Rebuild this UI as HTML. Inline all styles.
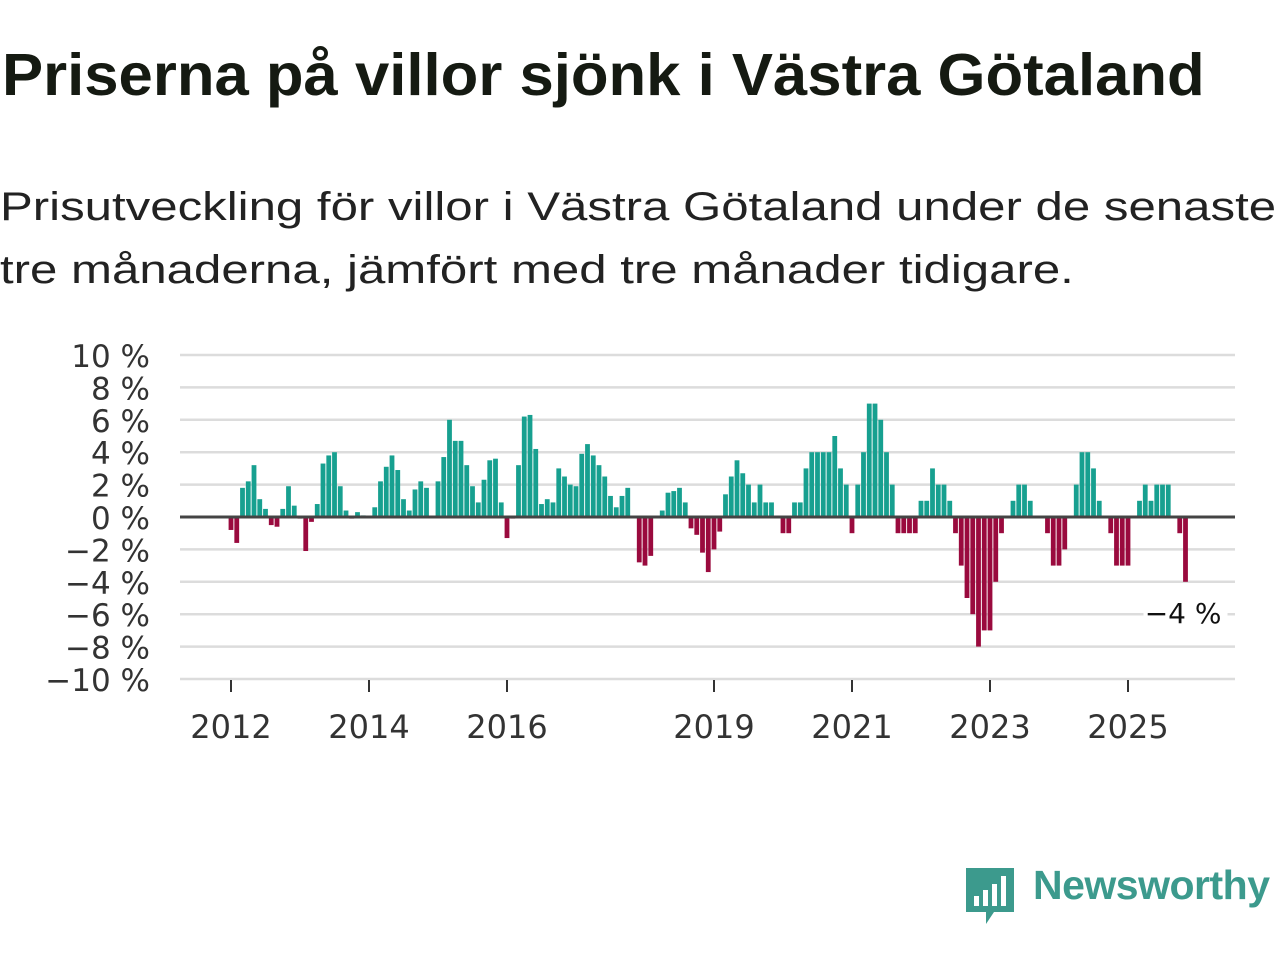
<!DOCTYPE html>
<html><head><meta charset="utf-8"><style>
body{margin:0;width:1280px;height:960px;background:#fff;font-family:"Liberation Sans",sans-serif;overflow:hidden;position:relative}
h1{position:absolute;left:2px;top:40px;margin:0;font-size:59px;line-height:70px;font-weight:bold;color:#151a12;white-space:nowrap;transform:scaleX(1.045);transform-origin:0 0}
.sub{position:absolute;left:0;top:176px;margin:0;font-size:40px;line-height:63px;color:#222;white-space:nowrap;transform:scaleX(1.229);transform-origin:0 0}
.logo{position:absolute;left:1033px;top:862px;font-size:41px;color:#3c9a8d;font-weight:bold;letter-spacing:-0.5px}
</style></head><body>
<h1>Priserna på villor sjönk i Västra Götaland</h1>
<p class="sub">Prisutveckling för villor i Västra Götaland under de senaste<br>tre månaderna, jämfört med tre månader tidigare.</p>
<svg id="chart" width="1280" height="960" style="position:absolute;left:0;top:0" xmlns="http://www.w3.org/2000/svg"></svg>
<svg width="52" height="60" style="position:absolute;left:964px;top:866px" viewBox="0 0 52 60">
<path d="M2 2h48v44H30l-8 12v-12H2z" fill="#3c9a8d"/>
<rect x="10" y="30" width="5" height="10" fill="#fff"/><rect x="19" y="24" width="5" height="16" fill="#fff"/><rect x="28" y="18" width="5" height="22" fill="#fff"/><rect x="37" y="10" width="5" height="30" fill="#fff"/>
</svg>
<div class="logo">Newsworthy</div>
<script>
const startYear = 2012;
const values = [
-0.8,-1.6,1.8,2.2,3.2,1.1,0.5,-0.5,-0.6,0.5,1.9,0.7,
-0.1,-2.1,-0.3,0.8,3.3,3.8,4.0,1.9,0.4,-0.1,0.3,0.1,
0,0.6,2.2,3.1,3.8,2.9,1.1,0.4,1.7,2.2,1.8,0,
2.2,3.7,6.0,4.7,4.7,3.2,1.9,0.9,2.3,3.5,3.6,0.9,
-1.3,-0.1,3.2,6.2,6.3,4.2,0.8,1.1,0.9,3.0,2.5,2.0,
1.9,3.9,4.5,3.8,3.2,2.5,1.3,0.6,1.3,1.8,0,-2.8,
-3.0,-2.4,0,0.4,1.5,1.6,1.8,0.9,-0.7,-1.1,-2.2,-3.4,
-2.0,-0.9,1.4,2.5,3.5,2.7,2.0,0.9,2.0,0.9,0.9,0,
-1,-1,0.9,0.9,3,4,4,4,4,5,3,2,
-1,2,4,7,7,6,4,2,-1,-1,-1,-1,
1,1,3,2,2,1,-1,-3,-5,-6,-8,-7,
-7,-4,-1,0,1,2,2,1,0,0,-1,-3,
-3,-2,0,2,4,4,3,1,0,-1,-3,-3,
-3,0,1,2,1,2,2,2,0,-1,-4];
const yTicks = [10,8,6,4,2,0,-2,-4,-6,-8,-10];
const xTickYears = [2012,2014,2016,2019,2021,2023,2025];
const lastLabel = "−4 %";

const svg = document.getElementById('chart');
const NS = 'http://www.w3.org/2000/svg';
const FONT = 'DejaVu Sans, sans-serif';
const x = m => 231 + m*5.75;
const y = v => 517 - v*16.2;
function mk(tag, attrs){const e=document.createElementNS(NS,tag);for(const k in attrs)e.setAttribute(k,attrs[k]);svg.appendChild(e);return e;}
yTicks.forEach(t=>{
  if(t!==0){const g=mk('line',{x1:180,x2:1235,y1:y(t),y2:y(t),stroke:'#dcdcdc','stroke-width':2.5});
  
  }
  const l=mk('text',{x:150,y:y(t)+12,'text-anchor':'end','font-size':31,fill:'#333','font-family':FONT});
  l.textContent=(t<0?'−'+(-t):t)+' %';
  
  
});
xTickYears.forEach(yr=>{
  const px=x((yr-startYear)*12);
  const t=mk('line',{x1:px,x2:px,y1:680,y2:692,stroke:'#333','stroke-width':2});
  
  
  const l=mk('text',{x:px,y:738,'text-anchor':'middle','font-size':32,fill:'#333','font-family':FONT});
  l.textContent=yr;
  
  
});
values.forEach((v,i)=>{
  if(v===0)return;
  const top=Math.min(y(v),y(0)), h=Math.abs(y(v)-y(0));
  const b=mk('rect',{x:x(i)-2.4,y:top,width:4.8,height:h,fill:v>0?'#17a090':'#9a0a3e'});
  
  
});
const z=mk('line',{x1:180,x2:1235,y1:y(0),y2:y(0),stroke:'#444','stroke-width':3});


const li=values.length-1;
const bg=mk('rect',{x:x(li)-42,y:y(values[li])+14,width:84,height:36,fill:'#fff'});


const lab=mk('text',{x:x(li)+36,y:y(values[li])+41,'text-anchor':'end','font-size':28,fill:'#111','font-family':FONT});
lab.textContent=lastLabel;


</script>
</body></html>
